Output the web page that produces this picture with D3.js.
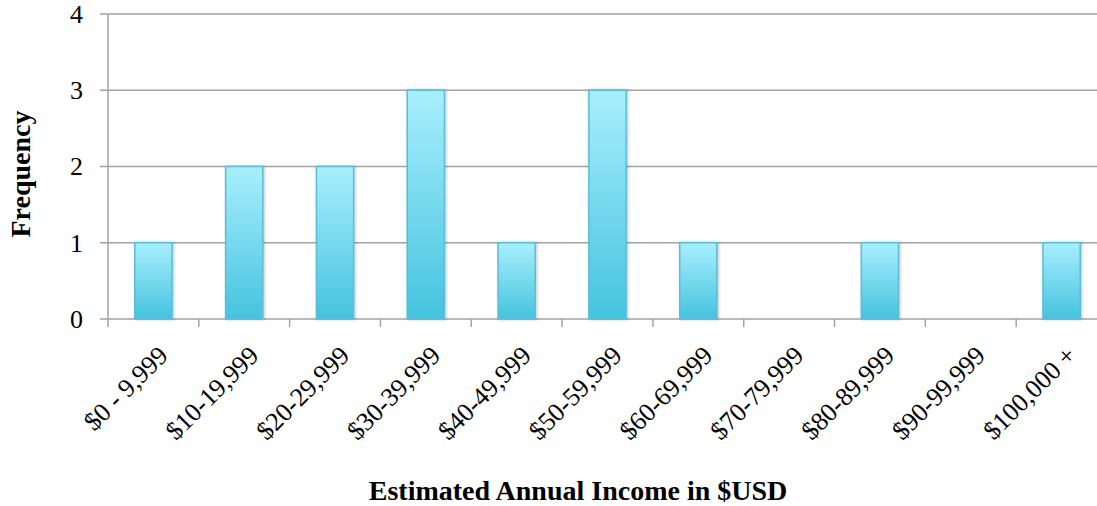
<!DOCTYPE html>
<html>
<head>
<meta charset="utf-8">
<script src="https://cdn.jsdelivr.net/npm/d3@7"></script>
<style>
  body { margin: 0; background: #fff; }
  svg { display: block; }
  .axis text { font-family: "Liberation Serif", serif; fill: #000; }
</style>
</head>
<body>
<div id="chart"></div>
<script>

// income brackets and counts
var categories = ["$0 - 9,999", "$10-19,999", "$20-29,999", "$30-39,999", "$40-49,999",
    "$50-59,999", "$60-69,999", "$70-79,999", "$80-89,999", "$90-99,999", "$100,000 +"];
var frequency = [1, 2, 2, 3, 1, 3, 1, 0, 1, 0, 1];
var yTicks = [0, 1, 2, 3, 4];

var xTitle = "Estimated Annual Income in $USD";
var yTitle = "Frequency";

var margin = {top: 14, right: -10, bottom: 187, left: 108};
var totalW = 1097, totalH = 506;
var width = totalW - margin.left - margin.right,
    height = totalH - margin.top - margin.bottom;

var svg = d3.select("#chart").append("svg")
    .attr("width", totalW)
    .attr("height", totalH);

var defs = svg.append("defs");
var grad = defs.append("linearGradient")
    .attr("id", "barGrad")
    .attr("x1", 0).attr("y1", 0).attr("x2", 0).attr("y2", 1);
grad.append("stop").attr("offset", "0%").attr("stop-color", "#a8effd");
grad.append("stop").attr("offset", "100%").attr("stop-color", "#45c3df");

var shadow = defs.append("filter").attr("id", "shadow")
    .attr("x", "-20%").attr("y", "-5%").attr("width", "140%").attr("height", "110%");
shadow.append("feDropShadow")
    .attr("dx", 1).attr("dy", 0).attr("stdDeviation", 1.5)
    .attr("flood-color", "#000").attr("flood-opacity", 0.25);

var g = svg.append("g")
    .attr("transform", "translate(" + margin.left + "," + margin.top + ")");

var x = d3.scaleBand()
    .domain(categories)
    .range([0, width])
    .paddingInner(0.59)
    .paddingOuter(0.295);

var xb = d3.scaleBand()
    .domain(categories)
    .range([0, width]);

var y = d3.scaleLinear()
    .domain([0, 4])
    .range([height, 0]);

// gridlines
g.append("g")
    .selectAll("line")
    .data(yTicks)
    .enter()
    .append("line")
    .attr("x1", -8)
    .attr("x2", width)
    .attr("y1", d => y(d))
    .attr("y2", d => y(d))
    .attr("stroke", "#a3a3a3")
    .attr("stroke-width", 1.5);

// y axis line
g.append("line")
    .attr("x1", 0).attr("x2", 0)
    .attr("y1", 0).attr("y2", height + 8)
    .attr("stroke", "#a3a3a3")
    .attr("stroke-width", 1.5);

// x tick marks at category boundaries
g.append("g")
    .selectAll("line")
    .data(categories.slice(1))
    .enter()
    .append("line")
    .attr("x1", d => xb(d))
    .attr("x2", d => xb(d))
    .attr("y1", height)
    .attr("y2", height + 8)
    .attr("stroke", "#a3a3a3")
    .attr("stroke-width", 1.5);

// bars
g.selectAll("rect.bar")
    .data(categories.map((c, i) => ({cat: c, v: frequency[i]})).filter(d => d.v > 0))
    .enter()
    .append("rect")
    .attr("class", "bar")
    .attr("x", d => x(d.cat))
    .attr("y", d => y(d.v))
    .attr("width", x.bandwidth())
    .attr("height", d => y(0) - y(d.v))
    .attr("fill", "url(#barGrad)")
    .attr("stroke", "#5bbdd6")
    .attr("stroke-width", 1.5)
    .attr("filter", "url(#shadow)");

// y tick labels
var yAxis = d3.axisLeft(y).tickValues(yTicks).tickSize(0).tickPadding(25).tickFormat(d3.format("d"));
g.append("g")
    .attr("class", "y-axis axis")
    .call(yAxis)
    .call(s => s.select(".domain").remove())
    .selectAll("text")
    .style("font-size", "26px");

// x labels rotated
var xAxis = d3.axisBottom(xb).tickSize(0).tickPadding(0);
g.append("g")
    .attr("class", "x-axis axis")
    .attr("transform", "translate(0," + height + ")")
    .call(xAxis)
    .call(s => s.select(".domain").remove())
    .selectAll("text")
    .style("font-size", "26px")
    .attr("text-anchor", "end")
    .attr("dy", null)
    .attr("y", 0)
    .attr("transform", "translate(16,38) rotate(-45)");

// axis titles
svg.append("text")
    .attr("x", 578)
    .attr("y", 500)
    .attr("text-anchor", "middle")
    .style("font-family", "Liberation Serif, serif")
    .style("font-weight", "bold")
    .style("font-size", "28px")
    .text(xTitle);

svg.append("text")
    .attr("transform", "translate(30,174) rotate(-90)")
    .attr("text-anchor", "middle")
    .style("font-family", "Liberation Serif, serif")
    .style("font-weight", "bold")
    .style("font-size", "28px")
    .text(yTitle);

</script>
</body>
</html>
